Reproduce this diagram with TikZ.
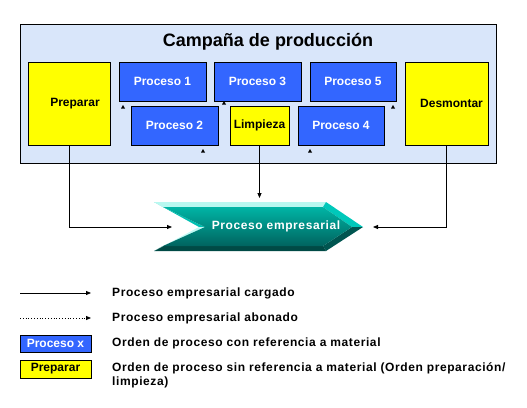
\documentclass[tikz,border=0pt]{standalone}
\usepackage{fontspec}
\setmainfont{Liberation Sans}
\newfontfamily\espaciada[LetterSpace=5]{Liberation Sans}
\usepackage{xcolor}
\usepackage{tikz}
\usetikzlibrary{positioning, arrows.meta, calc}

\definecolor{campana}{RGB}{217,230,250}
\definecolor{procblue}{RGB}{51,102,255}
\definecolor{procyellow}{RGB}{255,255,0}

\tikzset{
    procbox/.style={draw=black, line width=1pt, fill=procblue, text=white, font=\bfseries\fontsize{12}{14}\selectfont, inner sep=0pt},
    prepbox/.style={draw=black, line width=1pt, fill=procyellow, text=black, font=\bfseries\fontsize{12}{14}\selectfont, inner sep=0pt},
    flecha/.style={line width=0.8pt, -{Triangle[length=5pt, width=4pt]}},
    leyenda/.style={anchor=west, font=\espaciada\bfseries\fontsize{12}{14}\selectfont, align=left, inner sep=0pt}
}

\begin{document}
\begin{tikzpicture}[x=1pt, y=-1pt]
    \useasboundingbox (0, 0) rectangle (527, 407);

    % campaign frame
    \draw[line width=1pt, fill=campana] (20, 24) rectangle (496, 163);
    \node[font=\bfseries\fontsize{18}{20}\selectfont] (titulo) at (268, 42) {Campaña de producción};

    % orders
    \node[prepbox, minimum width=82pt, minimum height=83pt, label={[xshift=6pt, font=\bfseries\fontsize{12}{14}\selectfont]center:Preparar}] (preparar) at (69, 103.5) {};
    \node[procbox, minimum width=87pt, minimum height=39pt] (p1) at (162.5, 81.5) {Proceso 1};
    \node[procbox, minimum width=87pt, minimum height=39pt] (p3) at (257.5, 81.5) {Proceso 3};
    \node[procbox, minimum width=86pt, minimum height=39pt] (p5) at (353, 81.5) {Proceso 5};
    \node[procbox, minimum width=87pt, minimum height=39pt] (p2) at (174.5, 125.5) {Proceso 2};
    \node[prepbox, minimum width=59pt, minimum height=39pt] (limpieza) at (259.5, 125.5) {Limpieza};
    \node[procbox, minimum width=86pt, minimum height=39pt] (p4) at (341, 125.5) {Proceso 4};
    \node[prepbox, minimum width=83pt, minimum height=83pt, label={[xshift=5pt, font=\bfseries\fontsize{12}{14}\selectfont]center:Desmontar}] (desmontar) at (446.5, 103.5) {};

    % small tips
    \foreach \x/\y in {123/107, 224/103, 393/107, 203/151, 310/151} {
        \fill (\x-2, \y+1.5) -- (\x+2, \y+1.5) -- (\x, \y-2) -- cycle;
    }

    % business process chevron
    \fill[color={rgb,255:red,0;green,192;blue,178}] (154,202) -- (199,227) -- (205,227) -- (163,207) -- cycle;
    \fill[color={rgb,255:red,184;green,248;blue,240}] (154,202) -- (326,202) -- (323,207) -- (163,207) -- cycle;
    \fill[color={rgb,255:red,0;green,200;blue,186}] (326,202) -- (363,227) -- (352,227) -- (323,207) -- cycle;
    \fill[color={rgb,255:red,0;green,85;blue,80}] (363,227) -- (326,251) -- (323,246) -- (352,227) -- cycle;
    \fill[color={rgb,255:red,0;green,74;blue,69}] (326,251) -- (154,251) -- (163,246) -- (323,246) -- cycle;
    \fill[color={rgb,255:red,192;green,250;blue,245}] (154,251) -- (199,227) -- (205,227) -- (163,246) -- cycle;
    \shade[top color={rgb,255:red,0;green,180;blue,165}, bottom color={rgb,255:red,0;green,100;blue,95}]
        (163,207) -- (323,207) -- (352,227) -- (323,246) -- (163,246) -- (205,227) -- cycle;
    \node[text=white, font=\espaciada\bfseries\fontsize{12}{14}\selectfont] (empresa) at (276, 226) {Proceso empresarial};
    \coordinate (pe-left) at (172, 227);
    \coordinate (pe-top) at (259.5, 198);
    \coordinate (pe-right) at (373, 227);

    % connectors
    \draw[flecha] (preparar.south) |- (pe-left);
    \draw[flecha] (limpieza.south) -- (pe-top);
    \draw[flecha] (desmontar.south) |- (pe-right);

    % legend
    \coordinate (l1a) at (20, 293);
    \coordinate (l1b) at (91, 293);
    \coordinate (l2a) at (20, 318);
    \coordinate (l2b) at (91, 318);
    \draw[flecha] (l1a) -- (l1b);
    \draw[flecha, dotted] (l2a) -- (l2b);
    \node[procbox, minimum width=71pt, minimum height=17pt] (leyproc) at (55.5, 343.5) {Proceso x};
    \node[prepbox, minimum width=71pt, minimum height=18pt] (leyprep) at (55.5, 369) {Preparar};

    \node[leyenda] (t1) at (112, 293) {Proceso empresarial cargado};
    \node[leyenda] (t2) at (112, 318) {Proceso empresarial abonado};
    \node[leyenda] (t3) at (112, 343) {Orden de proceso con referencia a material};
    \node[leyenda, anchor=north west] (t4) at (112, 362) {Orden de proceso sin referencia a material (Orden preparación/\\limpieza)};
\end{tikzpicture}
\end{document}
